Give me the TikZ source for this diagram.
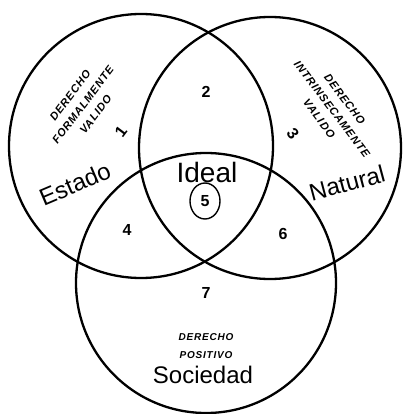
\documentclass[tikz,border=0pt]{standalone}
\usepackage{fontspec}
\setmainfont{Liberation Sans}
\newfontfamily\handfont{Liberation Sans}
\newfontfamily\capsfont[LetterSpace=8]{Liberation Sans}
\tikzset{
  ring/.style={draw=black, line width=2.3pt},
  caps/.style={font=\fontsize{11}{16}\selectfont\capsfont\bfseries\itshape, inner sep=0pt, align=center},
  capsm/.style={font=\fontsize{10}{18}\selectfont\capsfont\bfseries\itshape, inner sep=0pt, align=center},
  num/.style={font=\fontsize{16}{16}\selectfont\bfseries, inner sep=0pt},
  hand/.style={font=\fontsize{24}{24}\selectfont\handfont, inner sep=0pt},
}
\begin{document}
\begin{tikzpicture}[x=1pt,y=-1pt]
\useasboundingbox (0,0) rectangle (404,414);
% circles
\draw[ring] (141,146) circle[radius=132];
\draw[ring] (270,148) circle[radius=131];
\draw[ring] (206,283) circle[radius=130];
% labels of the sets
\node[caps, rotate=53] (left) at (83,105) {DERECHO\\FORMALMENTE\\VALIDO};
\node[caps, rotate=-53] (right) at (332,109) {DERECHO\\INTRINSECAMENTE\\VALIDO};
\node[capsm] (bottom) at (206,346) {DERECHO\\POSITIVO};
% numbers
\node[num, rotate=53] (n1) at (121,132) {1};
\node[num] (n2) at (206,92) {2};
\node[num, rotate=-53] (n3) at (293,134) {3};
\node[num] (n4) at (127,230) {4};
\node[num] (n5) at (205,201) {5};
\node[num] (n6) at (283,234) {6};
\node[num] (n7) at (206,293) {7};
\draw[line width=1.4pt] (n5) ellipse[x radius=15, y radius=18];
% handwritten words
\node[hand, rotate=23] (estado) at (75,184) {Estado};
\node[hand, font=\fontsize{28}{28}\selectfont\handfont] (ideal) at (207,172) {Ideal};
\node[hand, rotate=15] (natural) at (347,183) {Natural};
\node[hand] (sociedad) at (203,375) {Sociedad};
\end{tikzpicture}
\end{document}
